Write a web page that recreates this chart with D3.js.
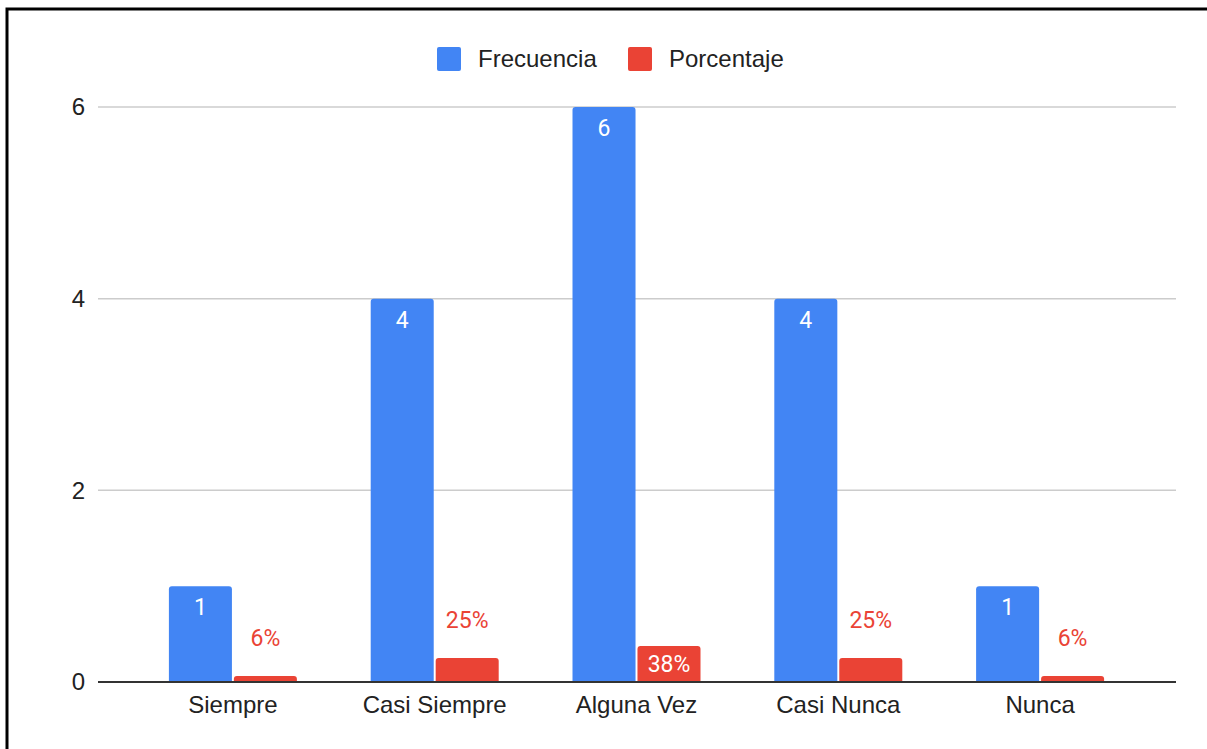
<!DOCTYPE html>
<html>
<head>
<meta charset="utf-8">
<script src="https://cdnjs.cloudflare.com/ajax/libs/d3/7.8.5/d3.min.js"></script>
<style>
  body { margin: 0; background: #fff; }
  svg { display: block; }
</style>
</head>
<body>
<svg id="chart" width="1207" height="749"></svg>
<script>
var categories = ['Siempre', 'Casi Siempre', 'Alguna Vez', 'Casi Nunca', 'Nunca'];
var frecuencia = [1, 4, 6, 4, 1];
var porcentaje = [0.0625, 0.25, 0.375, 0.25, 0.0625];
var porcentajeLabels = ['6%', '25%', '38%', '25%', '6%'];
var yTicks = [0, 2, 4, 6];
var seriesNames = ['Frecuencia', 'Porcentaje'];
var seriesColors = ['#4285f4', '#ea4335'];

(function() {
    var svg = d3.select('#chart');
    var labelFont = 'Arial, "Liberation Sans", sans-serif';
    var valueFont = 'Roboto, Arial, sans-serif';

    // frame
    svg.append('path')
        .attr('d', 'M7,749 V9 H1207')
        .attr('fill', 'none')
        .attr('stroke', '#000')
        .attr('stroke-width', 3);

    var x = d3.scaleBand().domain(categories).range([132, 1141]);
    var xs = d3.scaleBand().domain(seriesNames).range([0, 128]).paddingInner(0.03);
    var y = d3.scaleLinear().domain([0, 6]).range([682, 107]);
    var plotLeft = 98, plotRight = 1176;

    // gridlines
    svg.append('g').selectAll('line')
        .data(yTicks.filter(function(d) { return d > 0; }))
        .enter().append('line')
        .attr('x1', plotLeft).attr('x2', plotRight)
        .attr('y1', function(d) { return y(d); })
        .attr('y2', function(d) { return y(d); })
        .attr('stroke', '#cccccc')
        .attr('stroke-width', 1.5);

    svg.append('g').selectAll('text')
        .data(yTicks)
        .enter().append('text')
        .attr('x', 85)
        .attr('y', function(d) { return y(d); })
        .attr('dy', '0.35em')
        .attr('text-anchor', 'end')
        .attr('font-family', labelFont)
        .attr('font-size', 24)
        .attr('fill', '#222')
        .text(function(d) { return d; });

    var rows = categories.map(function(c, i) {
        return [
            {cat: c, s: seriesNames[0], v: frecuencia[i], label: String(frecuencia[i]), color: seriesColors[0]},
            {cat: c, s: seriesNames[1], v: porcentaje[i], label: porcentajeLabels[i], color: seriesColors[1]}
        ];
    });
    var bars = [].concat.apply([], rows);

    var offset = (x.bandwidth() - 128) / 2;

    svg.append('g').selectAll('path')
        .data(bars)
        .enter().append('path')
        .attr('fill', function(d) { return d.color; })
        .attr('d', function(d) {
            var x0 = x(d.cat) + offset + xs(d.s), w = xs.bandwidth();
            var y0 = y(d.v), y1 = y(0), r = 3;
            return 'M' + x0 + ',' + y1 + ' V' + (y0 + r) +
                ' Q' + x0 + ',' + y0 + ' ' + (x0 + r) + ',' + y0 +
                ' H' + (x0 + w - r) +
                ' Q' + (x0 + w) + ',' + y0 + ' ' + (x0 + w) + ',' + (y0 + r) +
                ' V' + y1 + ' Z';
        });

    svg.append('g').selectAll('text')
        .data(bars)
        .enter().append('text')
        .attr('x', function(d) { return x(d.cat) + offset + xs(d.s) + xs.bandwidth() / 2; })
        .attr('y', function(d) {
            var h = y(0) - y(d.v);
            if (h >= 30) return Math.min(y(d.v) + 21, (y(d.v) + y(0)) / 2);
            return y(d.v) - 38;
        })
        .attr('dy', '0.35em')
        .attr('text-anchor', 'middle')
        .attr('font-family', valueFont)
        .attr('font-size', 23)
        .attr('fill', function(d) {
            return (y(0) - y(d.v) >= 30) ? '#ffffff' : d.color;
        })
        .text(function(d) { return d.label; });

    // baseline
    svg.append('line')
        .attr('x1', plotLeft).attr('x2', plotRight)
        .attr('y1', y(0)).attr('y2', y(0))
        .attr('stroke', '#333333')
        .attr('stroke-width', 2);

    svg.append('g').selectAll('text')
        .data(categories)
        .enter().append('text')
        .attr('x', function(d) { return x(d) + x.bandwidth() / 2; })
        .attr('y', 705)
        .attr('dy', '0.35em')
        .attr('text-anchor', 'middle')
        .attr('font-family', labelFont)
        .attr('font-size', 24)
        .attr('fill', '#222')
        .text(function(d) { return d; });

    // legend
    var legendX = [437, 628];
    var legend = svg.append('g').selectAll('g')
        .data(seriesNames)
        .enter().append('g')
        .attr('transform', function(d, i) { return 'translate(' + legendX[i] + ',47)'; });
    legend.append('rect')
        .attr('width', 24).attr('height', 24).attr('rx', 2)
        .attr('fill', function(d, i) { return seriesColors[i]; });
    legend.append('text')
        .attr('x', 41).attr('y', 12)
        .attr('dy', '0.35em')
        .attr('font-family', labelFont)
        .attr('font-size', 24)
        .attr('fill', '#222')
        .text(function(d) { return d; });
})();
</script>
</body>
</html>
